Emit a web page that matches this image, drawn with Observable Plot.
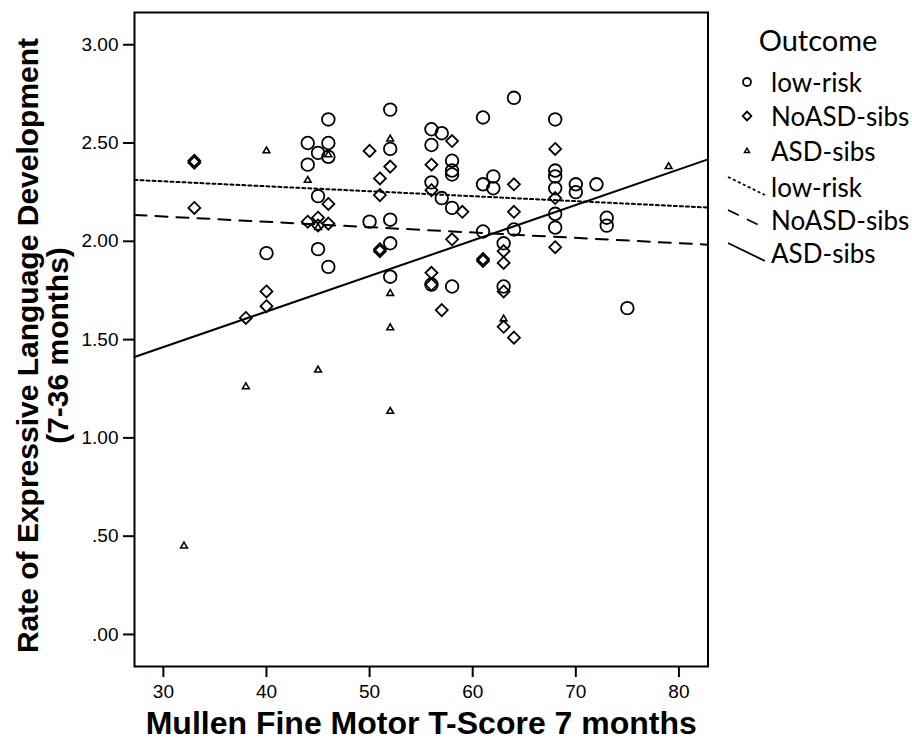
<!DOCTYPE html>
<html><head><meta charset="utf-8">
<script src="https://cdn.jsdelivr.net/npm/d3@7"></script>
<script src="https://cdn.jsdelivr.net/npm/@observablehq/plot@0.6"></script>
<style>
body{margin:0;background:#fff;}
#wrap{position:relative;width:912px;height:749px;}
#legend{position:absolute;left:0;top:0;}
</style></head><body><div id="wrap"></div>
<script>
// ---- data ----
const groups = ["low-risk", "NoASD-sibs", "ASD-sibs"];
const lowRiskX = [40, 44, 44, 45, 45, 45, 46, 46, 46, 46, 50, 52, 52, 52, 52, 52, 56, 56, 56, 56, 57, 57, 58, 58, 58, 58, 58, 61, 61, 61, 62, 62, 63, 63, 64, 64, 68, 68, 68, 68, 68, 68, 70, 70, 72, 73, 73, 75];
const lowRiskY = [1.94, 2.50, 2.39, 2.45, 2.23, 1.96, 2.62, 2.50, 2.43, 1.87, 2.10, 2.67, 2.47, 2.11, 1.99, 1.82, 2.57, 2.49, 2.30, 1.78, 2.55, 2.22, 2.41, 2.36, 2.34, 2.17, 1.77, 2.63, 2.29, 2.05, 2.33, 2.27, 1.99, 1.77, 2.73, 2.06, 2.62, 2.36, 2.33, 2.27, 2.14, 2.07, 2.29, 2.25, 2.29, 2.12, 2.08, 1.66];
const noAsdX = [33, 33, 33, 38, 40, 40, 44, 45, 45, 46, 46, 50, 51, 51, 51, 51, 52, 56, 56, 56, 56, 57, 58, 58, 59, 61, 61, 63, 63, 63, 63, 64, 64, 64, 68, 68, 68];
const noAsdY = [2.41, 2.40, 2.17, 1.61, 1.745, 1.67, 2.10, 2.12, 2.08, 2.19, 2.09, 2.46, 2.32, 2.235, 1.96, 1.95, 2.38, 2.39, 2.26, 1.84, 1.78, 1.65, 2.51, 2.01, 2.15, 1.91, 1.90, 1.95, 1.89, 1.745, 1.565, 2.29, 2.15, 1.51, 2.47, 2.22, 1.97];
const asdX = [32, 38, 40, 44, 45, 45, 46, 52, 52, 52, 52, 63, 79];
const asdY = [0.45, 1.26, 2.46, 2.31, 2.07, 1.345, 2.44, 2.52, 1.735, 1.56, 1.135, 1.605, 2.38];
// fitted linear regression lines (intercept, slope) per group
const fitIntercept = [2.381, 2.208, 0.920];
const fitSlope = [-0.002525, -0.00272, 0.01807];
const xTicks = [30, 40, 50, 60, 70, 80];
const yTicks = [0, 0.5, 1, 1.5, 2, 2.5, 3];
const xTitle = "Mullen Fine Motor T-Score 7 months";
const yTitle = "Rate of Expressive Language Development\n(7-36 months)";
const legendTitle = "Outcome";

// ---- build tables ----
const toRows = (xs, ys) => xs.map((x, i) => ({x, y: ys[i]}));
const lowRisk = toRows(lowRiskX, lowRiskY);
const noAsd = toRows(noAsdX, noAsdY);
const asd = toRows(asdX, asdY);
const xDomain = [27.2, 82.82];
const yDomain = [-0.163, 3.164];
const fitRows = (g) => xDomain.map(x => ({x, y: fitIntercept[g] + fitSlope[g] * x}));
const fmt = d => d3.format(".2f")(d).replace(/^0\./, ".");

const dotStyle = {x: "x", y: "y", stroke: "#000", fill: "none"};
const plot = Plot.plot({
  width: 912, height: 749,
  marginLeft: 134, marginRight: 204.5, marginTop: 12, marginBottom: 83,
  x: {domain: xDomain},
  y: {domain: yDomain},
  style: {fontFamily: "'Liberation Sans', Arial, sans-serif", fontSize: "19px", color: "#000", background: "#fff"},
  marks: [
    Plot.axisX({ticks: xTicks, tickSize: 11, tickPadding: 7, strokeWidth: 2, label: null}),
    Plot.axisY({ticks: yTicks, tickSize: 11, tickPadding: 5, strokeWidth: 2, tickFormat: fmt, label: null}),
    Plot.frame({strokeWidth: 2, stroke: "#000"}),
    Plot.line(fitRows(0), {x: "x", y: "y", stroke: "#000", strokeWidth: 2, strokeDasharray: "3,3"}),
    Plot.line(fitRows(1), {x: "x", y: "y", stroke: "#000", strokeWidth: 2, strokeDasharray: "12,9"}),
    Plot.line(fitRows(2), {x: "x", y: "y", stroke: "#000", strokeWidth: 2}),
    Plot.dot(lowRisk, {...dotStyle, symbol: "circle", r: 6.3, strokeWidth: 1.8}),
    Plot.dot(noAsd, {...dotStyle, symbol: "diamond2", r: 5.4, strokeWidth: 1.8}),
    Plot.dot(asd, {...dotStyle, symbol: "triangle2", r: 3.2, strokeWidth: 1.6}),
    Plot.text([xTitle], {frameAnchor: "bottom", dy: 67, fontSize: 32, fontWeight: "bold", fill: "#000", textAnchor: "middle"}),
    Plot.text([yTitle], {frameAnchor: "left", dx: -91, dy: 6, rotate: -90, fontSize: 30, fontWeight: "bold", lineHeight: 1.0, fill: "#000", textAnchor: "middle"})
  ]
});
const wrap = document.getElementById("wrap");
wrap.appendChild(plot);

// ---- legend (right side) ----
const lg = d3.create("svg").attr("id", "legend").attr("width", 912).attr("height", 749)
  .style("font-family", "Lato, 'Open Sans', sans-serif");
lg.append("text").attr("x", 818).attr("y", 39).attr("text-anchor", "middle")
  .attr("dominant-baseline", "central").attr("font-size", 29).text(legendTitle);
const rowY = [82, 116, 151, 187, 220, 253];
const syms = [d3.symbolCircle, d3.symbolSquare, d3.symbolTriangle2];
const symSizes = [Math.PI * 16, 38, Math.PI * 6];
const labels = groups.concat(groups);
labels.forEach((t, i) => {
  lg.append("text").attr("x", 771).attr("y", rowY[i]).attr("dominant-baseline", "central")
    .attr("font-size", 26).text(t);
});
[0, 1, 2].forEach(i => {
  lg.append("path").attr("d", d3.symbol(syms[i], symSizes[i])())
    .attr("fill", "none").attr("stroke", "#000").attr("stroke-width", i === 2 ? 1.4 : 1.8)
    .attr("transform", `translate(747,${rowY[i]})` + (i === 1 ? " rotate(45)" : ""));
});
const dashes = ["3,2.5", "12,9", null];
[0, 1, 2].forEach(i => {
  const y = rowY[3 + i];
  const l = lg.append("line").attr("x1", 728).attr("y1", y - 10).attr("x2", 765).attr("y2", y + 8)
    .attr("stroke", "#000").attr("stroke-width", 1.8);
  if (dashes[i]) l.attr("stroke-dasharray", dashes[i]);
});
wrap.appendChild(lg.node());
</script></body></html>
